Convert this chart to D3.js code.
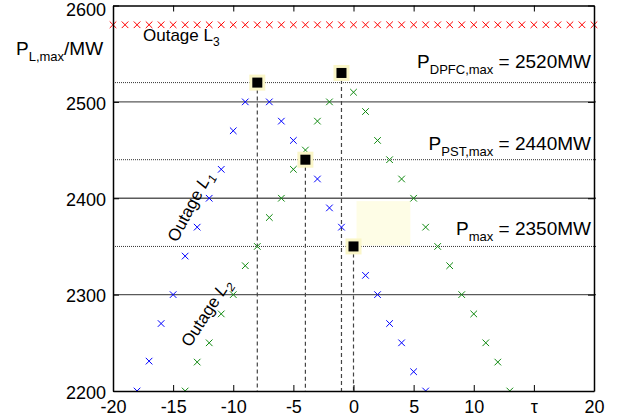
<!DOCTYPE html>
<html>
<head>
<meta charset="utf-8">
<script src="https://cdn.jsdelivr.net/npm/d3@7"></script>
<style>
body { margin: 0; background: #fff; }
text { font-family: "Liberation Sans", Arial, sans-serif; fill: #000; }
</style>
</head>
<body>
<svg id="chart" width="624" height="419"></svg>
<script>
// outage L1 (blue)
var blueTau = [-18, -17, -16, -15, -14, -13, -12, -11, -10, -9, -8, -7, -6, -5, -4, -3, -2, -1, 0, 1, 2, 3, 4, 5, 6];
var blueP = [2200, 2231, 2270, 2300, 2340, 2370, 2400, 2430, 2470, 2500, 2520, 2500, 2480, 2460, 2440, 2420, 2390, 2370, 2350, 2320, 2300, 2270, 2250, 2220, 2200];

// outage L2 (green)
var greenTau = [-14, -13, -12, -11, -10, -9, -8, -7, -6, -5, -4, -3, -2, -1, 0, 1, 2, 3, 4, 5, 6, 7, 8, 9, 10, 11, 12, 13];
var greenP = [2200, 2230, 2250, 2280, 2300, 2330, 2350, 2380, 2400, 2430, 2450, 2480, 2500, 2530, 2510, 2490, 2460, 2440, 2420, 2400, 2370, 2350, 2330, 2300, 2280, 2250, 2230, 2200];

// outage L3 (red)
var redTau = [-20, -19, -18, -17, -16, -15, -14, -13, -12, -11, -10, -9, -8, -7, -6, -5, -4, -3, -2, -1, 0,
              1, 2, 3, 4, 5, 6, 7, 8, 9, 10, 11, 12, 13, 14, 15, 16, 17, 18, 19, 20];
var redP = [2580, 2580, 2580, 2580, 2580, 2580, 2580, 2580, 2580, 2580, 2580, 2580, 2580, 2580, 2580, 2580, 2580, 2580, 2580, 2580, 2580,
            2580, 2580, 2580, 2580, 2580, 2580, 2580, 2580, 2580, 2580, 2580, 2580, 2580, 2580, 2580, 2580, 2580, 2580, 2580, 2580];

// maxima (black squares)
var peakTau = [-8, -1, -4, 0];
var peakP = [2520, 2530, 2440, 2350];

// horizontal reference lines
var gridP = [2300, 2400, 2500];
var limitP = [2520, 2440, 2350];
var limitNames = ["DPFC,max", "PST,max", "max"];
var limitText = [" = 2520MW", " = 2440MW", " = 2350MW"];

var xTicks = [-20, -15, -10, -5, 0, 5, 10, 15, 20];
var xTickLabels = ["-20", "-15", "-10", "-5", "0", "5", "10", "\u03c4", "20"];
var yTicks = [2200, 2300, 2400, 2500, 2600];

var svg = d3.select("#chart");
var x = d3.scaleLinear().domain([-20, 20]).range([113, 594]);
var y = d3.scaleLinear().domain([2200, 2600]).range([391, 5.5]);

svg.append("defs").append("clipPath").attr("id", "plot-clip")
    .append("rect")
        .attr("x", x(-20)).attr("y", y(2600))
        .attr("width", x(20) - x(-20)).attr("height", y(2200) - y(2600));

// pale box left over on the plot
svg.append("rect")
    .attr("x", x(0.25)).attr("y", y(2397))
    .attr("width", x(4.73) - x(0.25)).attr("height", y(2351) - y(2397))
    .attr("fill", "#fefde6");

svg.selectAll(".grid").data(gridP).enter().append("line")
    .attr("class", "grid")
    .attr("x1", x(-20)).attr("x2", x(20) + 2)
    .attr("y1", function(d) { return y(d); })
    .attr("y2", function(d) { return y(d); })
    .attr("stroke", "#5a5a5a").attr("stroke-width", 1.3);

svg.selectAll(".limit").data(limitP).enter().append("line")
    .attr("class", "limit")
    .attr("x1", x(-20)).attr("x2", x(20) + 2)
    .attr("y1", function(d) { return y(d); })
    .attr("y2", function(d) { return y(d); })
    .attr("stroke", "#333").attr("stroke-width", 1)
    .attr("stroke-dasharray", "1,1");

svg.selectAll(".drop").data(peakTau).enter().append("line")
    .attr("class", "drop")
    .attr("x1", function(d) { return x(d); })
    .attr("x2", function(d) { return x(d); })
    .attr("y1", function(d, i) { return y(peakP[i]); })
    .attr("y2", y(2200))
    .attr("stroke", "#444").attr("stroke-width", 1.2)
    .attr("stroke-dasharray", "4,3");

var cross = function(px, py) {
    var r = 3.3;
    return "M" + (px - r) + "," + (py - r) + "L" + (px + r) + "," + (py + r) +
           "M" + (px - r) + "," + (py + r) + "L" + (px + r) + "," + (py - r);
};

var drawCrosses = function(cls, xs, ys, color, clip) {
    var g = svg.append("g").attr("class", cls);
    if (clip) g.attr("clip-path", "url(#plot-clip)");
    g.selectAll("path").data(xs).enter().append("path")
        .attr("d", function(d, i) { return cross(x(d), y(ys[i])); })
        .attr("stroke", color).attr("stroke-width", 1).attr("fill", "none");
};
drawCrosses("blue", blueTau, blueP, "#0000ff", true);
drawCrosses("green", greenTau, greenP, "#108a10", true);
drawCrosses("red", redTau, redP, "#ff0000", false);

var peaks = svg.selectAll(".peak").data(peakTau).enter().append("g")
    .attr("class", "peak")
    .attr("transform", function(d, i) {
        return "translate(" + x(d) + "," + y(peakP[i]) + ")";
    });
peaks.append("rect")
    .attr("x", -8).attr("y", -8).attr("width", 16).attr("height", 16)
    .attr("fill", "#faf6c8");
peaks.append("rect")
    .attr("x", -5).attr("y", -5).attr("width", 10).attr("height", 10)
    .attr("fill", "#000");

// axes
var axisStyle = function(g) {
    g.select(".domain").attr("stroke", "#000").attr("stroke-width", 1.5);
    g.selectAll(".tick line").attr("stroke", "#000").attr("stroke-width", 1);
    g.selectAll("text").attr("font-size", "18px").attr("fill", "#000")
        .attr("font-family", "Liberation Sans, Arial, sans-serif");
};

svg.append("g").attr("transform", "translate(0," + y(2200) + ")")
    .call(d3.axisBottom(x).tickValues(xTicks).tickSizeInner(-6).tickSizeOuter(0).tickPadding(9)
        .tickFormat(function(d, i) { return xTickLabels[i]; }))
    .call(axisStyle);
svg.append("g").attr("transform", "translate(0," + y(2600) + ")")
    .call(d3.axisTop(x).tickValues(xTicks).tickSizeInner(-6).tickSizeOuter(0).tickFormat(""))
    .call(axisStyle);
svg.append("g").attr("transform", "translate(" + x(-20) + ",0)")
    .call(d3.axisLeft(y).tickValues(yTicks).tickSizeInner(-6).tickSizeOuter(0).tickPadding(7)
        .tickFormat(d3.format("d")))
    .call(axisStyle)
    .selectAll("text").attr("dy", function(d) { return d === 2600 ? "0.53em" : "0.4em"; });
svg.append("g").attr("transform", "translate(" + x(20) + ",0)")
    .call(d3.axisRight(y).tickValues(yTicks).tickSizeInner(-6).tickSizeOuter(0).tickFormat(""))
    .call(axisStyle);

// y label
var yl = svg.append("text").attr("x", 16).attr("y", 55).attr("font-size", "19px");
yl.append("tspan").text("P");
yl.append("tspan").attr("font-size", "13px").attr("dy", 6).text("L,max");
yl.append("tspan").attr("dy", -6).text("/MW");

// limit labels
var limitBase = [68, 150, 235];
limitP.forEach(function(v, i) {
    var t = svg.append("text").attr("x", 591).attr("y", limitBase[i])
        .attr("text-anchor", "end").attr("font-size", "19px");
    t.append("tspan").text("P");
    t.append("tspan").attr("font-size", "13px").attr("dy", 6).text(limitNames[i]);
    t.append("tspan").attr("dy", -6).text(limitText[i]);
});

// outage labels
var l3 = svg.append("text").attr("x", 143).attr("y", 41).attr("font-size", "17px");
l3.append("tspan").text("Outage L");
l3.append("tspan").attr("font-size", "12px").attr("dy", 5).text("3");

var rotLabel = function(px, py, angle, sub) {
    var t = svg.append("text")
        .attr("transform", "translate(" + px + "," + py + ") rotate(" + angle + ")")
        .attr("font-size", "17px");
    t.append("tspan").text("Outage ");
    t.append("tspan").attr("font-style", "italic").text("L");
    t.append("tspan").attr("font-style", "italic").attr("font-size", "12px").attr("dy", 5).text(sub);
};
rotLabel(177, 243, -62, "1");
rotLabel(190, 348, -57, "2");
</script>
</body>
</html>
